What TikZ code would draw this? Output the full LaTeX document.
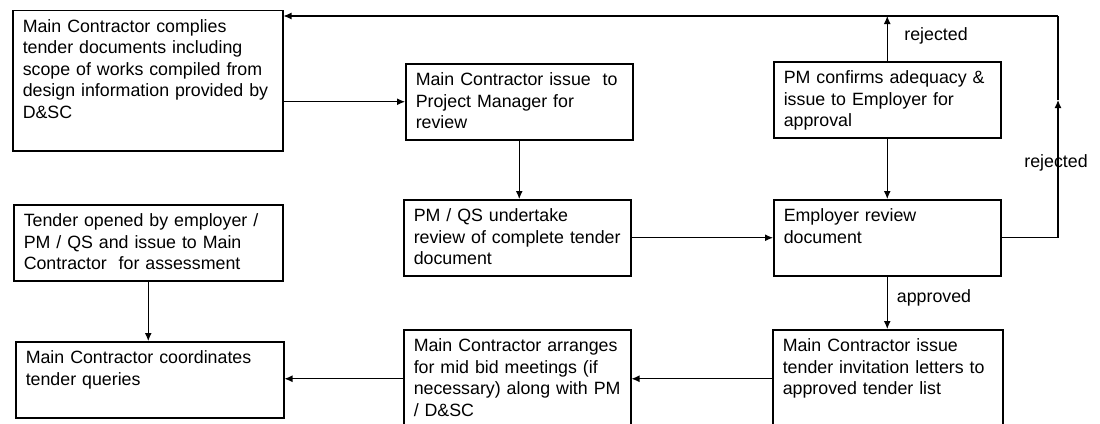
\documentclass[tikz,border=0pt]{standalone}
\usepackage{fontspec}
\setmainfont{Liberation Sans}
\usetikzlibrary{arrows.meta}
\newcommand{\stagefont}{\fontsize{17.8}{21.5}\selectfont}
\tikzset{
  stage/.style={draw, line width=1.5pt, anchor=north west, align=left,
    inner xsep=10pt, inner ysep=8pt, text height=14pt, font=\stagefont},
  flow/.style={line width=1.1pt, -{Latex[length=8pt,width=7pt]}},
  plain/.style={line width=1.1pt},
  lbl/.style={font=\stagefont, inner sep=0pt}
}
\begin{document}
\begin{tikzpicture}[x=1pt, y=-1pt]
\useasboundingbox (0,0) rectangle (1100,423); % page size
% boxes
\node[stage, text width=250pt, text depth=110.5pt] (comply) at (12,9.5) {Main Contractor complies\\ tender documents including\\ scope of works compiled from\\ design information provided by\\ D\&SC};
\node[stage, text width=207pt, text depth=46pt] (issuepm) at (405,63) {Main Contractor issue~ to\\ Project Manager for\\ review};
\node[stage, text width=207pt, text depth=46pt] (confirm) at (773,61) {PM confirms adequacy \&\\ issue to Employer for\\ approval};
\node[stage, text width=207pt, text depth=46pt] (review) at (403,199) {PM / QS undertake\\ review of complete tender\\ document};
\node[stage, text width=207pt, text depth=46pt] (employer) at (773,199) {Employer review\\ document};
\node[stage, text width=249pt, text depth=46pt] (opened) at (13,204) {Tender opened by employer /\\ PM / QS and issue to Main\\ Contractor~ for assessment};
\node[stage, text width=248pt, text depth=46pt] (queries) at (15,341) {Main Contractor coordinates\\ tender queries};
\node[stage, text width=207pt, text depth=68pt] (midbid) at (403,329) {Main Contractor arranges\\ for mid bid meetings (if\\ necessary) along with PM\\ / D\&SC};
\node[stage, text width=210pt, text depth=68pt] (invite) at (772,329) {Main Contractor issue\\ tender invitation letters to\\ approved tender list};
% return loop
\coordinate (topR) at (1058,16); % top right corner
\coordinate (midR) at (1058,100); % arrow on right line
% connectors
\draw[flow] (comply.east |- issuepm.west) -- (issuepm.west);
\draw[flow] (issuepm.south) -- (issuepm.south |- review.north);
\draw[flow] (review.east) -- (employer.west);
\draw[flow] (confirm.south) -- (employer.north);
\draw[flow] (confirm.north) -- (confirm.north |- topR);
\draw[flow] (topR) -- (topR -| comply.east);
\draw[flow] (employer.east) -| (midR);
\draw[plain] (midR) -- (topR);
\draw[flow] (employer.south) -- (employer.south |- invite.north);
\draw[flow] (invite.west) -- (midbid.east);
\draw[flow] (midbid.west) -- (midbid.west -| queries.east);
\draw[flow] (opened.south) -- (opened.south |- queries.north);
% labels
\node[lbl] (rejtop) at (936,36) {rejected};
\node[lbl] (rejright) at (1056,163) {rejected};
\node[lbl] (approved) at (934,298) {approved};
\end{tikzpicture}
\end{document}
